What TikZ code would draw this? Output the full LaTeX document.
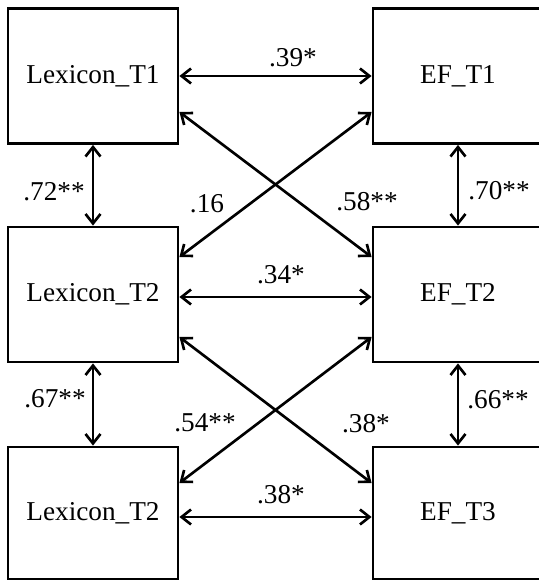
\documentclass[tikz,border=0pt]{standalone}
\usepackage{fontspec}
\setmainfont{Liberation Serif}
\usepackage{tikz}
\usetikzlibrary{arrows.meta,positioning}

\begin{document}
\begin{tikzpicture}[
  font=\fontsize{15.5}{18}\selectfont,
  box/.style={draw,line width=1.6pt,minimum width=3.4cm,minimum height=2.7cm,align=center,inner sep=0pt},
  ar/.style={{Straight Barb[length=1.9mm,width=3mm]}-{Straight Barb[length=1.9mm,width=3mm]},line width=1.5pt},
  lbl/.style={inner sep=0pt}
]
\clip (0,0) rectangle (10.78,11.62);
\node[box] (l1) at (1.86,10.10) {Lexicon\_T1};
\node[box] (l2) at (1.86,5.73) {Lexicon\_T2};
\node[box,minimum height=2.64cm] (l3) at (1.86,1.36) {Lexicon\_T2};
\node[box] (r1) at (9.16,10.10) {EF\_T1};
\node[box] (r2) at (9.16,5.73) {EF\_T2};
\node[box,minimum height=2.64cm] (r3) at (9.16,1.36) {EF\_T3};
% across
\draw[ar] (l1) -- (r1);
\draw[ar] ([yshift=-0.05cm]l2.east) -- ([yshift=-0.05cm]r2.west);
\draw[ar] ([yshift=-0.08cm]l3.east) -- ([yshift=-0.08cm]r3.west);
% stability
\draw[ar] (l1) -- (l2); \draw[ar] (l2) -- (l3);
\draw[ar] (r1) -- (r2); \draw[ar] (r2) -- (r3);
% cross-lagged
\draw[ar] ([yshift=-0.72cm]l1.east) -- ([yshift=0.75cm]r2.west);
\draw[ar] ([yshift=-0.72cm]r1.west) -- ([yshift=0.75cm]l2.east);
\draw[ar] ([yshift=-0.85cm]l2.east) -- ([yshift=0.6cm]r3.west);
\draw[ar] ([yshift=-0.85cm]r2.west) -- ([yshift=0.6cm]l3.east);
% coefficients
\node[lbl] (c1) at (5.86,10.46) {.39*};
\node[lbl] (c2) at (1.08,7.78) {.72**};
\node[lbl] (c3) at (4.14,7.54) {.16};
\node[lbl] (c4) at (7.34,7.58) {.58**};
\node[lbl] (c5) at (9.98,7.80) {.70**};
\node[lbl] (c6) at (5.62,6.12) {.34*};
\node[lbl] (c7) at (1.10,3.64) {.67**};
\node[lbl] (c8) at (4.10,3.16) {.54**};
\node[lbl] (c9) at (7.32,3.14) {.38*};
\node[lbl] (c10) at (9.96,3.62) {.66**};
\node[lbl] (c11) at (5.62,1.72) {.38*};
\end{tikzpicture}
\end{document}
